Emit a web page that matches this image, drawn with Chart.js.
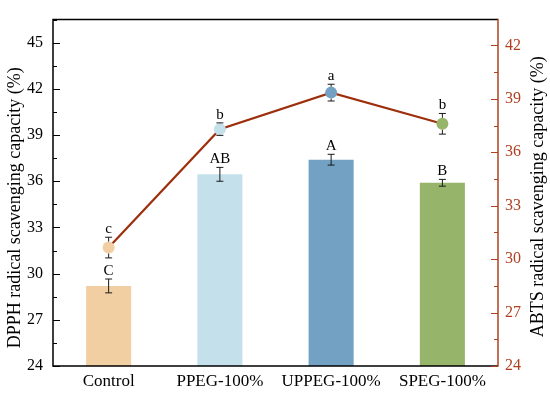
<!DOCTYPE html>
<html><head><meta charset="utf-8">
<script src="https://cdn.jsdelivr.net/npm/chart.js@4/dist/chart.umd.min.js"></script>
<style>html,body{margin:0;padding:0;background:#fff}#wrap{width:550px;height:394px;position:relative}canvas{display:block}</style>
</head><body><div id="wrap"><canvas id="c" width="550" height="394" style="width:550px;height:394px"></canvas></div>
<script>
const categories = ['Control', 'PPEG-100%', 'UPPEG-100%', 'SPEG-100%'];
const dpphValues = [29.2, 36.45, 37.4, 35.9];
const dpphErrors = [0.45, 0.45, 0.35, 0.22];
const dpphLetters = ['C', 'AB', 'A', 'B'];
const abtsValues = [30.65, 37.3, 39.35, 37.6];
const abtsErrors = [0.58, 0.35, 0.47, 0.58];
const abtsLetters = ['c', 'b', 'a', 'b'];
const barColors = ['#F2CFA2', '#C4E0EA', '#72A1C3', '#97B56A'];
const leftTicks = [24, 27, 30, 33, 36, 39, 42, 45];
const rightTicks = [24, 27, 30, 33, 36, 39, 42];
const leftTitle = 'DPPH radical scavenging capacity (%)';
const rightTitle = 'ABTS radical scavenging capacity (%)';

const SERIF = '"Liberation Serif", "Times New Roman", serif';
const RED = '#B0401F';
const LINE = '#9E2F0C';

function errBar(ctx, x, yTop, yBot, capHalf, skipFrom, skipTo) {
  ctx.beginPath();
  if (skipFrom !== undefined) {
    ctx.moveTo(x, yTop); ctx.lineTo(x, skipFrom);
    ctx.moveTo(x, skipTo); ctx.lineTo(x, yBot);
  } else {
    ctx.moveTo(x, yTop); ctx.lineTo(x, yBot);
  }
  ctx.moveTo(x - capHalf, yTop); ctx.lineTo(x + capHalf, yTop);
  ctx.moveTo(x - capHalf, yBot); ctx.lineTo(x + capHalf, yBot);
  ctx.stroke();
}

const decor = {
  id: 'decor',
  afterDatasetsDraw(chart) {
    const ctx = chart.ctx;
    const xs = chart.scales.x, yl = chart.scales.y, yr = chart.scales.y1;
    ctx.save();
    ctx.strokeStyle = '#1a1a1a';
    ctx.lineWidth = 1;
    ctx.fillStyle = '#000';
    ctx.font = '15px ' + SERIF;
    ctx.textAlign = 'center';
    ctx.textBaseline = 'bottom';
    categories.forEach((c, i) => {
      const x = xs.getPixelForValue(i);
      const t = yl.getPixelForValue(dpphValues[i] + dpphErrors[i]);
      const b = yl.getPixelForValue(dpphValues[i] - dpphErrors[i]);
      errBar(ctx, x, t, b, 3.5);
      ctx.fillText(dpphLetters[i], x, t - 0.5);
      const yc = yr.getPixelForValue(abtsValues[i]);
      const t2 = yr.getPixelForValue(abtsValues[i] + abtsErrors[i]);
      const b2 = yr.getPixelForValue(abtsValues[i] - abtsErrors[i]);
      errBar(ctx, x, t2, b2, 3.5, yc - 6, yc + 6);
      ctx.fillText(abtsLetters[i], x, t2 - 0.5);
    });
    ctx.restore();
  },
  afterDraw(chart) {
    const ctx = chart.ctx;
    const a = chart.chartArea;
    const yl = chart.scales.y, yr = chart.scales.y1;
    ctx.save();
    ctx.lineWidth = 1.5;
    ctx.strokeStyle = '#000';
    ctx.beginPath();
    ctx.moveTo(a.right, a.top); ctx.lineTo(a.left, a.top); ctx.lineTo(a.left, a.bottom); ctx.lineTo(a.right, a.bottom);
    ctx.stroke();
    ctx.lineWidth = 1;
    ctx.beginPath();
    for (let v = 24; v <= 46.5; v += 1.5) {
      const y = Math.round(yl.getPixelForValue(v)) + 0.5;
      const major = Math.abs((v - 24) % 3) < 1e-6;
      ctx.moveTo(a.left, y); ctx.lineTo(a.left + (major ? 7 : 4), y);
    }
    ctx.stroke();
    ctx.strokeStyle = RED;
    ctx.lineWidth = 1.5;
    ctx.beginPath();
    ctx.moveTo(a.right, a.top - 0.75); ctx.lineTo(a.right, a.bottom + 0.75);
    ctx.stroke();
    ctx.lineWidth = 1;
    ctx.beginPath();
    for (let v = 24; v <= 43.45; v += 1.5) {
      const y = Math.round(yr.getPixelForValue(v)) + 0.5;
      const major = Math.abs((v - 24) % 3) < 1e-6;
      ctx.moveTo(a.right, y); ctx.lineTo(a.right - (major ? 7 : 4), y);
    }
    ctx.stroke();
    ctx.fillStyle = '#000';
    ctx.font = '18px ' + SERIF;
    ctx.textAlign = 'center';
    ctx.textBaseline = 'middle';
    const midY = (a.top + a.bottom) / 2;
    ctx.save();
    ctx.translate(a.left - 38, midY + 15);
    ctx.rotate(-Math.PI / 2);
    ctx.fillText(leftTitle, 0, 0);
    ctx.restore();
    ctx.save();
    ctx.translate(a.right + 40, midY + 4);
    ctx.rotate(-Math.PI / 2);
    ctx.fillText(rightTitle, 0, 0);
    ctx.restore();
    ctx.restore();
  }
};

new Chart(document.getElementById('c'), {
  data: {
    labels: categories,
    datasets: [
      {
        type: 'line',
        data: abtsValues,
        yAxisID: 'y1',
        borderColor: LINE,
        borderWidth: 2.2,
        pointRadius: 6,
        pointBorderWidth: 0,
        pointBackgroundColor: barColors,
        tension: 0,
        order: 0
      },
      {
        type: 'bar',
        data: dpphValues,
        yAxisID: 'y',
        backgroundColor: barColors,
        borderWidth: 0,
        barPercentage: 0.405,
        categoryPercentage: 1,
        order: 1
      }
    ]
  },
  options: {
    responsive: false,
    animation: false,
    devicePixelRatio: 1,
    layout: { padding: { top: 6, left: 0, right: 0, bottom: 0 } },
    plugins: { legend: { display: false }, tooltip: { enabled: false } },
    scales: {
      x: {
        type: 'category',
        offset: true,
        grid: { display: false, drawTicks: false },
        border: { display: false },
        ticks: { color: '#000', font: { family: SERIF, size: 17 }, padding: 5, maxRotation: 0, autoSkip: false },
        afterFit(s) { s.height = 28; }
      },
      y: {
        position: 'left',
        min: 24, max: 46.5,
        grid: { display: false, drawTicks: false },
        border: { display: false },
        afterBuildTicks(s) { s.ticks = leftTicks.map(v => ({ value: v })); },
        ticks: { color: '#000', font: { family: SERIF, size: 16 }, padding: 10 },
        afterFit(s) { s.width = 53; }
      },
      y1: {
        position: 'right',
        min: 24, max: 43.45,
        grid: { display: false, drawTicks: false },
        border: { display: false },
        afterBuildTicks(s) { s.ticks = rightTicks.map(v => ({ value: v })); },
        ticks: { color: RED, font: { family: SERIF, size: 16 }, padding: 7 },
        afterFit(s) { s.width = 52; }
      }
    }
  },
  plugins: [decor]
});
</script>
</body></html>
